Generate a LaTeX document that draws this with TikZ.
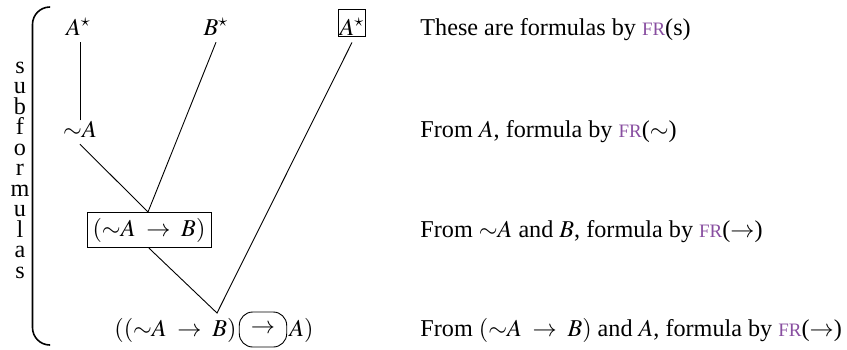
\documentclass[tikz,border=0pt]{standalone}
\usepackage{mathptmx}
\usepackage[no-math]{fontspec}
\setmainfont{Liberation Serif}
\usepackage{xcolor}
\usetikzlibrary{positioning,calc}
\definecolor{frviolet}{RGB}{136,78,160}
\newcommand{\FR}{\textcolor{frviolet}{{\fontsize{8.4pt}{10pt}\selectfont FR}}}
\newcommand{\imply}{\mathrel{\;\to\;}}

\begin{document}
\begin{tikzpicture}[x=0.4425pt,y=-0.4425pt, font=\fontsize{10.7pt}{13pt}\selectfont]
  \tikzset{formula/.style={inner sep=3pt, anchor=base},
           reason/.style={inner sep=0pt, anchor=base west}}
  \useasboundingbox (0,0) rectangle (847,349);
  % bracket with the vertical word
  \draw[line width=0.7pt, rounded corners=7.7pt] (50,7) -- (32.5,7) -- (32.5,345) -- (50,345);
  \node[inner sep=0pt, align=center, font=\fontsize{10.7pt}{9.07pt}\selectfont] (sub) at (20,170)
    {s\\u\\b\\f\\o\\r\\m\\u\\l\\a\\s};
  % formulas
  \node[formula] (as1) at (78.5,35) {$A^\star$};
  \node[formula] (bs) at (216,35) {$B^\star$};
  \node[formula, draw, inner sep=0.6pt, text height=10.5pt] (as2) at (352,35) {$A^\star$};
  \node[formula] (nota) at (80,137) {${\sim}A$};
  \node[formula, draw, inner sep=2.5pt] (imp) at (149,236) {$({\sim}A \imply B)$};
  \node[formula, anchor=base east, inner sep=0pt] (bl) at (237,336) {$(({\sim}A \imply B)$};
  \node[draw, rounded corners=6pt, minimum width=21pt, minimum height=15.5pt, inner sep=0pt] (arr) at (263,329.5) {$\to$};
  \node[formula, anchor=base west, inner sep=0pt] (br) at (289,336) {$A)$};
  \coordinate (j1) at (148,212);
  \coordinate (j2) at (217,313);
  \draw[shorten <=-3pt] (nota.north) -- (nota.north |- as1.south);
  \draw (nota.south) -- (j1) -- (bs.south);
  \draw (imp.south) -- (j2) -- ([yshift=-2.5pt]as2.south);
  % reasons
  \node[reason] (r1) at (420,35) {These are formulas by \FR(s)};
  \node[reason] (r2) at (420,137) {From $A$, formula by \FR($\sim$)};
  \node[reason] (r3) at (420,237) {From ${\sim}A$ and $B$, formula by \FR($\to$)};
  \node[reason] (r4) at (420,336) {From $({\sim}A \imply B)$ and $A$, formula by \FR($\to$)};
\end{tikzpicture}
\end{document}
